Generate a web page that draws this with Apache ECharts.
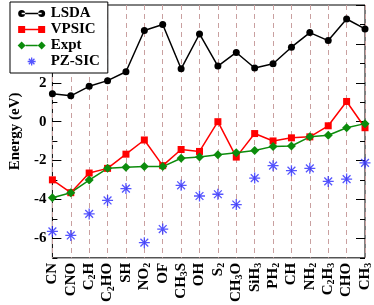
<!DOCTYPE html>
<html><head><meta charset="utf-8">
<script src="https://cdn.jsdelivr.net/npm/echarts@6/dist/echarts.min.js"></script>
<style>html,body{margin:0;padding:0;background:#fff}#c{width:374px;height:305px}</style>
</head><body><div id="c"></div>
<script>
var categories = ['CN','CNO','C2H','C2HO','SH','NO2','OF','CH3S','OH','S2','CH3O','SiH3','PH2','CH','NH2','C2H3','CHO','CH3'];
var lsda  = [1.44,1.33,1.82,2.11,2.57,4.69,5.00,2.72,4.51,2.86,3.56,2.76,2.98,3.83,4.58,4.17,5.28,4.77];
var vpsic = [-2.99,-3.65,-2.64,-2.40,-1.67,-0.94,-2.26,-1.43,-1.53,0.00,-1.82,-0.61,-0.99,-0.83,-0.78,-0.21,1.04,-0.31];
var expt  = [-3.91,-3.65,-3.00,-2.40,-2.34,-2.31,-2.31,-1.88,-1.82,-1.70,-1.60,-1.48,-1.27,-1.25,-0.78,-0.70,-0.31,-0.10];
var pzsic = [-5.64,-5.85,-4.74,-4.05,-3.44,-6.22,-5.52,-3.27,-3.82,-3.73,-4.26,-2.90,-2.26,-2.52,-2.40,-3.07,-2.95,-2.12];
var yMajorTicks = [-6,-4,-2,0,2,4,6];
var yLabels = [-6,-4,-2,0,2];

var FONT = 'Liberation Serif';
var starPath = 'path://M0,5L10,5M5,0L5,10M1.46,1.46L8.54,8.54M1.46,8.54L8.54,1.46';
function fmtCat(v){
  var parts = v.match(/\d+|[^\d]+/g), out = '';
  for (var i = 0; i < parts.length; i++) {
    out += /^\d/.test(parts[i]) ? '{s|' + parts[i] + '}' : '{n|' + parts[i] + '}';
  }
  return out;
}

var chart = echarts.init(document.getElementById('c'), null, {renderer:'canvas'});
var baseY = {type:'value', min:-7, max:6, interval:1, splitLine:{show:false}, axisLine:{show:false}};
chart.setOption({
  animation:false,
  backgroundColor:'#fff',
  grid:{left:37, right:9, top:5, bottom:46, show:true, borderColor:'#000', borderWidth:1, backgroundColor:'transparent'},
  legend:{
    orient:'vertical', left:10, top:2, padding:[4,8,4,7], itemGap:1,
    itemWidth:28, itemHeight:8, backgroundColor:'#fff', borderColor:'#000', borderWidth:1,
    textStyle:{fontFamily:FONT, fontWeight:'bold', fontSize:15, lineHeight:15, color:'#000'},
    data:[
      {name:'LSDA', icon:'path://M0,0M28,8M0.5,4a3.5,3.5 0 1,0 7,0a3.5,3.5 0 1,0 -7,0zM20.5,4a3.5,3.5 0 1,0 7,0a3.5,3.5 0 1,0 -7,0zM4,3.25h20v1.5h-20z'},
      {name:'VPSIC', icon:'path://M0,0M28,8M0.5,0.5h7v7h-7zM20.5,0.5h7v7h-7zM7,3.25h14v1.5h-14z'},
      {name:'Expt', icon:'path://M0,4L4,0L8,4L4,8zM20,4L24,0L28,4L24,8zM8,3.3h12v1.4h-12z'},
      {name:'PZ-SIC', icon:'path://M0,0M28,8M10,4L18,4M14,0L14,8M11.2,1.2L16.8,6.8M11.2,6.8L16.8,1.2',
       itemStyle:{color:'transparent', borderColor:'#2a2aff', borderWidth:1.3}}
    ]
  },
  xAxis:{
    type:'category', data:categories, boundaryGap:false,
    axisLine:{show:false}, axisTick:{show:false},
    splitLine:{show:true, interval:0, lineStyle:{color:'#c9a0a0', type:[5,4], width:1}},
    axisLabel:{interval:0, rotate:90, margin:5, color:'#000', formatter:fmtCat,
      rich:{n:{fontFamily:FONT, fontWeight:'bold', fontSize:15, color:'#000'},
            s:{fontFamily:FONT, fontWeight:'bold', fontSize:10, color:'#000', verticalAlign:'bottom', padding:[7,0,0,0]}}}
  },
  yAxis:[
    Object.assign({}, baseY, {position:'left', name:'Energy (eV)', nameLocation:'middle', nameGap:26,
      nameTextStyle:{fontFamily:FONT, fontWeight:'bold', fontSize:15, color:'#000'},
      axisTick:{show:true, inside:true, length:5, lineStyle:{color:'#000'}},
      axisLabel:{margin:6, color:'#000', fontFamily:FONT, fontWeight:'bold', fontSize:15,
        customValues:yLabels}}),
    Object.assign({}, baseY, {position:'left', axisLabel:{show:false},
      axisTick:{show:true, inside:true, length:9, customValues:yMajorTicks, lineStyle:{color:'#000'}}}),
    Object.assign({}, baseY, {position:'right', axisLabel:{show:false},
      axisTick:{show:true, inside:true, length:5, lineStyle:{color:'#000'}}}),
    Object.assign({}, baseY, {position:'right', axisLabel:{show:false},
      axisTick:{show:true, inside:true, length:9, customValues:yMajorTicks, lineStyle:{color:'#000'}}})
  ],
  series:[
    {name:'LSDA', type:'line', data:lsda, symbol:'circle', symbolSize:7, z:5,
     itemStyle:{color:'#000'}, lineStyle:{color:'#000', width:1.5}},
    {name:'VPSIC', type:'line', data:vpsic, symbol:'rect', symbolSize:7, z:4,
     itemStyle:{color:'#ff0000'}, lineStyle:{color:'#ff0000', width:1.5}},
    {name:'Expt', type:'line', data:expt, symbol:'diamond', symbolSize:9, z:4,
     itemStyle:{color:'#0c8c0c'}, lineStyle:{color:'#0c8c0c', width:1.5}},
    {name:'PZ-SIC', type:'scatter', data:pzsic, symbol:starPath, symbolSize:11, z:3,
     itemStyle:{color:'transparent', borderColor:'#2a2aff', borderWidth:1.3}}
  ]
});
</script></body></html>
